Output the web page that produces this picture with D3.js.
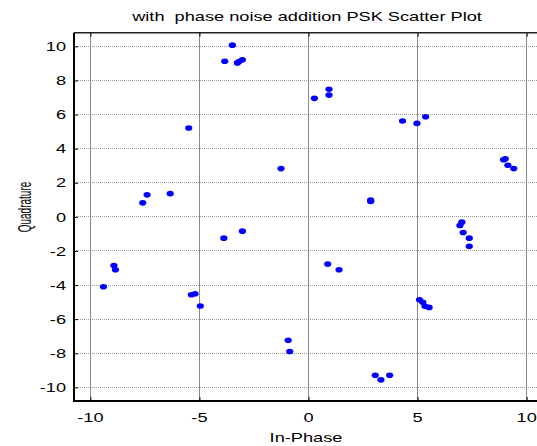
<!DOCTYPE html>
<html>
<head>
<meta charset="utf-8">
<script src="https://cdn.jsdelivr.net/npm/d3@7"></script>
<style>
  html, body { margin: 0; padding: 0; background: #fff; }
  svg { display: block; }
  text { font-family: "Liberation Sans", Arial, sans-serif; fill: #000; white-space: pre; }
</style>
</head>
<body>
<svg id="chart" width="537" height="446"></svg>
<script>
// ---- data ----
const title = "with  phase noise addition PSK Scatter Plot";
const xLabel = "In-Phase";
const yLabel = "Quadrature";
const xTicks = [-10, -5, 0, 5, 10];
const yTicks = [-10, -8, -6, -4, -2, 0, 2, 4, 6, 8, 10];
const inPhase = [
  -3.49, -3.84, -3.26, -3.18, -3.03, -5.49, -1.26, -7.60, -7.40, -6.34,
   0.27,  0.94,  0.94,  4.31,  4.97,  5.37,  8.94,  9.02,  9.14,  9.41,
   2.85,  2.85, -3.88, -3.03, -8.92, -8.85, -9.40, -5.37, -5.20, -4.96,
  -0.93, -0.86,  0.88,  1.40,  7.03,  6.94,  7.09,  7.37,  7.37,  5.09,
   5.24,  5.34,  5.53,  3.06,  3.32,  3.72
];
const quadrature = [
  10.07,  9.13,  9.03,  9.11,  9.21,  5.21,  2.83,  0.82,  1.29,  1.36,
   6.95,  7.48,  7.14,  5.62,  5.48,  5.87,  3.35,  3.41,  3.03,  2.83,
   0.98,  0.90, -1.25, -0.84, -2.85, -3.10, -4.10, -4.57, -4.51, -5.23,
  -7.24, -7.90, -2.77, -3.10, -0.31, -0.51, -0.92, -1.25, -1.72, -4.86,
  -5.01, -5.25, -5.31, -9.29, -9.56, -9.29
];
const xDomain = [-10.75, 10.75];
const yDomain = [-10.8, 10.8];

// ---- layout ----
const svg = d3.select("#chart");
const pLeft = 74, pRight = 543, pTop = 32.7, pBottom = 401;
const SX = 1.4; // horizontal stretch of the original picture's text
const x = d3.scaleLinear().domain(xDomain).range([pLeft, pRight]);
const y = d3.scaleLinear().domain(yDomain).range([pBottom, pTop]);

// grid
svg.append("g").selectAll("line").data(yTicks).join("line")
  .attr("x1", pLeft).attr("x2", pRight)
  .attr("y1", d => y(d)).attr("y2", d => y(d))
  .attr("stroke", "#9a9a9a").attr("stroke-width", 1)
  .attr("stroke-dasharray", "1,1").attr("shape-rendering", "crispEdges");
svg.append("g").selectAll("line").data(xTicks).join("line")
  .attr("x1", d => x(d)).attr("x2", d => x(d))
  .attr("y1", pTop).attr("y2", pBottom)
  .attr("stroke", "#8a8a8a").attr("stroke-width", 1)
  .attr("shape-rendering", "crispEdges");

// axes via d3 (inner ticks)
const xAxis = d3.axisBottom(x).tickValues(xTicks).tickSize(-4).tickFormat("");
const gx = svg.append("g").attr("transform", `translate(0,${pBottom})`).call(xAxis);
gx.select(".domain").remove();
const xAxisTop = d3.axisTop(x).tickValues(xTicks).tickSize(-4).tickFormat("");
const gxt = svg.append("g").attr("transform", `translate(0,${pTop})`).call(xAxisTop);
gxt.select(".domain").remove();
const yAxis = d3.axisLeft(y).tickValues(yTicks).tickSize(-4).tickFormat("");
const gy = svg.append("g").attr("transform", `translate(${pLeft},0)`).call(yAxis);
gy.select(".domain").remove();
svg.selectAll(".tick line").attr("stroke", "#000").attr("stroke-width", 1);

// frame lines
svg.append("line").attr("x1", pLeft).attr("x2", 537).attr("y1", pTop).attr("y2", pTop)
  .attr("stroke", "#222").attr("stroke-width", 1.5);
svg.append("line").attr("x1", pLeft).attr("x2", 537).attr("y1", pBottom).attr("y2", pBottom)
  .attr("stroke", "#000").attr("stroke-width", 2);
svg.append("line").attr("x1", pLeft).attr("x2", pLeft).attr("y1", pTop).attr("y2", pBottom + 1)
  .attr("stroke", "#000").attr("stroke-width", 2);

// tick labels
svg.append("g").selectAll("text").data(xTicks).join("text")
  .attr("transform", d => `translate(${x(d)},422) scale(${SX},1)`)
  .attr("text-anchor", "middle").attr("font-size", 13)
  .text(d => d);
svg.append("g").selectAll("text").data(yTicks).join("text")
  .attr("transform", d => `translate(66,${y(d)}) scale(${SX},1)`)
  .attr("text-anchor", "end").attr("dy", "0.36em").attr("font-size", 13)
  .text(d => d);

// labels
svg.append("text").attr("transform", `translate(307,21) scale(${SX},1)`)
  .attr("text-anchor", "middle").attr("font-size", 13).text(title);
svg.append("text").attr("transform", `translate(306,442) scale(${SX},1)`)
  .attr("text-anchor", "middle").attr("font-size", 13).text(xLabel);
svg.append("text").attr("transform", `translate(31,207) scale(1.75,1) rotate(-90)`)
  .attr("text-anchor", "middle").attr("font-size", 10).text(yLabel);

// points
const pts = inPhase.map((v, i) => ({ i: v, q: quadrature[i] }));
svg.append("g").selectAll("ellipse").data(pts).join("ellipse")
  .attr("cx", d => x(d.i)).attr("cy", d => y(d.q))
  .attr("rx", 3.6).attr("ry", 2.8)
  .attr("fill", "#0000ff");
</script>
</body>
</html>
